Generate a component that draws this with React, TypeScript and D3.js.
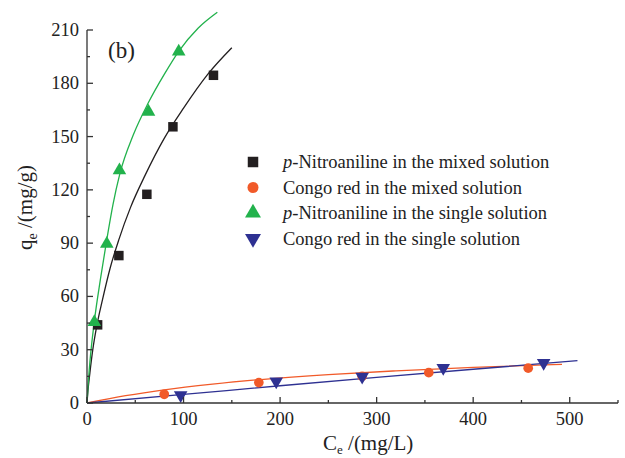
import React from 'react';
import * as d3 from 'd3';

// measured points
const pnaMixedCe = [11, 33, 62, 89, 131];
const pnaMixedQe = [44, 83, 117.5, 155.5, 184.5];
const crMixedCe = [80, 178, 285, 354, 457];
const crMixedQe = [4.9, 11.5, 15, 17.1, 19.6];
const pnaSingleCe = [7.6, 20.5, 33.6, 63.7, 95];
const pnaSingleQe = [45.6, 89.6, 131, 164, 197.8];
const crSingleCe = [97, 196, 285, 369, 473];
const crSingleQe = [4.4, 12.1, 14.8, 19.8, 22.6];

// fitted curves
const pnaMixedFitCe = [0, 1, 3, 6, 10, 16, 24, 33, 45, 60, 80, 100, 125, 150];
const pnaMixedFitQe = [0, 7, 17, 30, 43, 58, 76, 92, 110, 128, 149, 166, 185, 200];
const pnaSingleFitCe = [0, 1, 3, 7.6, 14, 20.5, 27, 34, 48, 63.5, 80, 95, 115, 135];
const pnaSingleFitQe = [0, 9, 23, 46, 70, 92, 112, 129, 151, 169, 185, 198, 211, 220];
const crMixedFitCe = [0, 40, 80, 130, 180, 250, 320, 400, 492];
const crMixedFitQe = [0, 4.1, 7.4, 10.6, 13.2, 16, 18.1, 20.1, 21.8];
const crSingleFitCe = [0, 100, 200, 300, 400, 508];
const crSingleFitQe = [0, 4.8, 9.7, 14.4, 19, 23.8];

const xTicks = [0, 100, 200, 300, 400, 500];
const xMinor = [50, 150, 250, 350, 450, 550];
const yTicks = [0, 30, 60, 90, 120, 150, 180, 210];
const yMinor = [15, 45, 75, 105, 135, 165, 195];

const legendLabels = [
  ['p', '-Nitroaniline in the mixed solution'],
  ['', 'Congo red in the mixed solution'],
  ['p', '-Nitroaniline in the single solution'],
  ['', 'Congo red in the single solution'],
];

const BLACK = '#231f20';
const RED = '#f15a29';
const GREEN = '#22b24c';
const BLUE = '#2e3192';
const FONT = '"Liberation Serif", "Times New Roman", serif';

export default function App() {
  const x = d3.scaleLinear().domain([0, 550]).range([87, 618]);
  const y = d3.scaleLinear().domain([0, 210]).range([403, 30]);

  const line = d3
    .line<[number, number]>()
    .curve(d3.curveMonotoneX)
    .x(d => x(d[0]))
    .y(d => y(d[1]));

  const zip = (a: number[], b: number[]) => a.map((v, i) => [v, b[i]] as [number, number]);

  const square = d3.symbol(d3.symbolSquare, 90)();
  const circle = d3.symbol(d3.symbolCircle, 74)();
  const tri = d3.symbol(d3.symbolTriangle, 80)();

  const series = [
    { ce: pnaMixedCe, qe: pnaMixedQe, fit: zip(pnaMixedFitCe, pnaMixedFitQe), color: BLACK, path: square, rot: 0 },
    { ce: crMixedCe, qe: crMixedQe, fit: zip(crMixedFitCe, crMixedFitQe), color: RED, path: circle, rot: 0 },
    { ce: pnaSingleCe, qe: pnaSingleQe, fit: zip(pnaSingleFitCe, pnaSingleFitQe), color: GREEN, path: tri, rot: 0 },
    { ce: crSingleCe, qe: crSingleQe, fit: zip(crSingleFitCe, crSingleFitQe), color: BLUE, path: tri, rot: 180 },
  ];

  const legendPaths = [
    d3.symbol(d3.symbolSquare, 110)(),
    d3.symbol(d3.symbolCircle, 95)(),
    d3.symbol(d3.symbolTriangle, 110)(),
    d3.symbol(d3.symbolTriangle, 110)(),
  ];

  return (
    <svg width={625} height={458} style={{ position: 'absolute', left: 0, top: 0, background: '#fff' }} fontFamily={FONT}>
      {/* fits */}
      {series.map((s, i) => (
        <path key={'f' + i} d={line(s.fit) || ''} fill="none" stroke={s.color} strokeWidth={1.3} />
      ))}
      {/* points */}
      {series.map((s, i) => (
        <g key={'p' + i}>
          {s.ce.map((c, j) => (
            <path
              key={j}
              d={s.path || ''}
              fill={s.color}
              transform={`translate(${x(c)},${y(s.qe[j])}) rotate(${s.rot})`}
            />
          ))}
        </g>
      ))}

      {/* axes */}
      <g stroke="#333" strokeWidth={1.3}>
        <line x1={x(0)} x2={x(550)} y1={y(0)} y2={y(0)} />
        <line x1={x(0)} x2={x(0)} y1={y(0)} y2={y(210)} />
        {xTicks.map(t => (
          <line key={'xt' + t} x1={x(t)} x2={x(t)} y1={y(0)} y2={y(0) - 6} />
        ))}
        {xMinor.map(t => (
          <line key={'xm' + t} x1={x(t)} x2={x(t)} y1={y(0)} y2={y(0) - 3} />
        ))}
        {yTicks.map(t => (
          <line key={'yt' + t} x1={x(0)} x2={x(0) + 6} y1={y(t)} y2={y(t)} />
        ))}
        {yMinor.map(t => (
          <line key={'ym' + t} x1={x(0)} x2={x(0) + 3} y1={y(t)} y2={y(t)} />
        ))}
      </g>
      <g fontSize={18.5} fill="#222">
        {xTicks.map(t => (
          <text key={'xl' + t} x={x(t)} y={y(0) + 22} textAnchor="middle">{t}</text>
        ))}
        {yTicks.map(t => (
          <text key={'yl' + t} x={x(0) - 8} y={y(t) + 6} textAnchor="end">{t}</text>
        ))}
      </g>

      {/* axis titles */}
      <text x={323} y={450} fontSize={21} fill="#222">
        C<tspan fontSize={13} dy={4}>e</tspan>
        <tspan dy={-4}> /(mg/L)</tspan>
      </text>
      <text transform="translate(32,250) rotate(-90)" fontSize={21} fill="#222">
        q<tspan fontSize={14} dy={5}>e</tspan>
        <tspan dy={-5}> /(mg/g)</tspan>
      </text>

      <text x={108} y={58} fontSize={23} fill="#222">(b)</text>

      {/* legend */}
      {legendLabels.map((l, i) => {
        const by = 168 + i * 25.5;
        return (
          <g key={'lg' + i}>
            <path
              d={legendPaths[i] || ''}
              fill={series[i].color}
              transform={`translate(253,${by - 6}) rotate(${series[i].rot})`}
            />
            <text x={283} y={by} fontSize={18.5} fill="#222">
              {l[0] && <tspan fontStyle="italic">{l[0]}</tspan>}
              {l[1]}
            </text>
          </g>
        );
      })}
    </svg>
  );
}
